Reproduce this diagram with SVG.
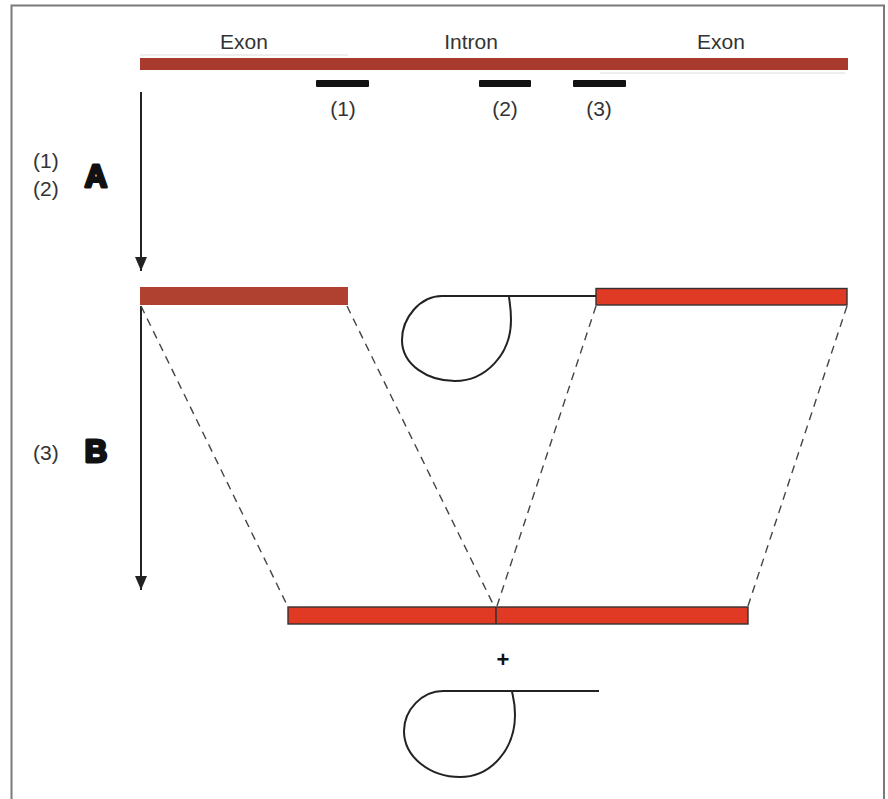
<svg xmlns="http://www.w3.org/2000/svg" width="888" height="799" viewBox="0 0 888 799">
<style>
.lbl{font-family:"Liberation Sans",Arial,sans-serif;font-size:21px;fill:#333;}
.big{font-family:"Liberation Sans",Arial,sans-serif;font-size:31px;font-weight:bold;fill:#111;stroke:#111;stroke-width:3;stroke-linejoin:round;}
.mark{fill:#111;}
.dash{stroke:#444;stroke-width:1.4;stroke-dasharray:8,6;fill:none;}
.loop{stroke:#222;stroke-width:2;fill:none;}
.arrow{stroke:#222;stroke-width:2;fill:none;}
.exonB{fill:#e03a24;stroke:#333;stroke-width:1.4;}
</style>
<defs>
<marker id="ah" markerWidth="14" markerHeight="12" refX="14" refY="6" orient="auto" markerUnits="userSpaceOnUse" viewBox="0 0 14 12">
<path d="M0,0 L14,6 L0,12 Z" fill="#222"/>
</marker>
</defs>
<rect x="0" y="0" width="888" height="799" fill="#fff"/>
<rect id="frame" x="11.5" y="5.5" width="872.5" height="810" fill="none" stroke="#7a7a7a" stroke-width="2"/>

<g id="pre-mrna">
<rect x="140" y="58" width="708" height="12" fill="#a83b2e"/>
<line x1="140" y1="55" x2="348" y2="55" stroke="#ddd" stroke-width="1"/>
<line x1="600" y1="73" x2="845" y2="73" stroke="#ddd" stroke-width="1"/>
<text class="lbl" x="244" y="49" text-anchor="middle">Exon</text>
<text class="lbl" x="471" y="49" text-anchor="middle">Intron</text>
<text class="lbl" x="721" y="49" text-anchor="middle">Exon</text>
</g>

<g id="sites">
<rect class="mark" x="316" y="80" width="53" height="7" rx="1"/>
<rect class="mark" x="479" y="80" width="52" height="7" rx="1"/>
<rect class="mark" x="573" y="80" width="53" height="7" rx="1"/>
<text class="lbl" x="343" y="116" text-anchor="middle">(1)</text>
<text class="lbl" x="505" y="116" text-anchor="middle">(2)</text>
<text class="lbl" x="599" y="116" text-anchor="middle">(3)</text>
</g>

<g id="step-a">
<text class="lbl" x="33" y="168">(1)</text>
<text class="lbl" x="33" y="196">(2)</text>
<text class="big" x="96" y="187" text-anchor="middle">A</text>
</g>

<g id="step-b">
<text class="lbl" x="33" y="460">(3)</text>
<text class="big" x="96" y="462" text-anchor="middle">B</text>
</g>

<g id="intermediate">
<rect x="140" y="287" width="208" height="18" fill="#b04030"/>
<rect class="exonB" x="596" y="288.5" width="251" height="16.5"/>
<path class="loop" d="M596,296 L442,296 C420,296 402,318 402,340 C402,365 428,381 455,381 C485,381 511,355 511,320 C511,306 509,300 509,296"/>
</g>

<g id="product">
<rect class="exonB" x="288" y="607" width="460" height="17"/>
<line x1="496" y1="607" x2="496" y2="624" stroke="#333" stroke-width="1.6"/>
<text x="503" y="667" text-anchor="middle" style="font-family:'Liberation Sans',Arial,sans-serif;font-size:22px;font-weight:bold;fill:#111;">+</text>
</g>

<g id="lariat">
<path class="loop" d="M599,691 L443,691 C422,691 404,710 404,731 C404,757 430,777 460,777 C492,777 515,748 515,715 C515,700 512,694 512,691"/>
</g>

<g id="connectors">
<line class="arrow" x1="141" y1="92" x2="141" y2="271" marker-end="url(#ah)"/>
<line class="arrow" x1="141" y1="306" x2="141" y2="590" marker-end="url(#ah)"/>
<line class="dash" x1="141" y1="306" x2="288" y2="607"/>
<line class="dash" x1="347" y1="306" x2="494" y2="606"/>
<line class="dash" x1="596" y1="306" x2="497" y2="606"/>
<line class="dash" x1="847" y1="306" x2="748" y2="606"/>
</g>
</svg>
